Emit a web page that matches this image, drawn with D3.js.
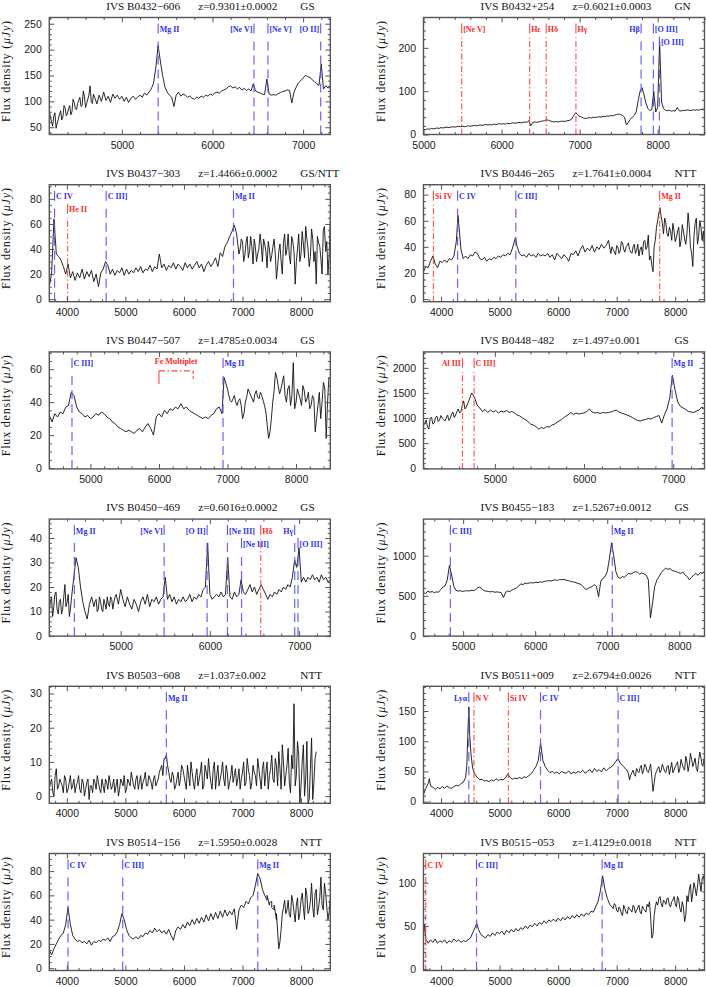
<!DOCTYPE html>
<html><head><meta charset="utf-8">
<script src="https://cdn.jsdelivr.net/npm/d3@7"></script>
<style>body{margin:0;background:#fff}svg{display:block}</style>
</head><body>
<script>
// ---------------- DATA ----------------
const sources = ["IVS B0432\u2212606","IVS B0432+254","IVS B0437\u2212303","IVS B0446\u2212265","IVS B0447\u2212507","IVS B0448\u2212482","IVS B0450\u2212469","IVS B0455\u2212183","IVS B0503\u2212608","IVS B0511+009","IVS B0514\u2212156","IVS B0515\u2212053"];
const redshifts = ["z=0.9301\u00b10.0002","z=0.6021\u00b10.0003","z=1.4466\u00b10.0002","z=1.7641\u00b10.0004","z=1.4785\u00b10.0034","z=1.497\u00b10.001","z=0.6016\u00b10.0002","z=1.5267\u00b10.0012","z=1.037\u00b10.002","z=2.6794\u00b10.0026","z=1.5950\u00b10.0028","z=1.4129\u00b10.0018"];
const telescopes = ["GS","GN","GS/NTT","NTT","GS","GS","GS","GS","NTT","NTT","NTT","NTT"];
const xRanges = [[4200,7300],[5000,8600],[3700,8500],[3700,8500],[4400,8500],[4200,7350],[4200,7350],[4450,8350],[3700,8500],[3700,8500],[3700,8500],[3700,8500]];
const yRanges = [[36,262],[0,270],[-2,91.3],[-2,87.6],[-0.5,70.5],[-14,2318],[0,47.7],[0,1455],[-2.1,32.1],[-2.8,191],[-1.9,94.5],[-1.5,133.8]];
const xTickLabels = [[5000,6000,7000],[5000,6000,7000,8000],[4000,5000,6000,7000,8000],[4000,5000,6000,7000,8000],[5000,6000,7000,8000],[5000,6000,7000],[5000,6000,7000],[5000,6000,7000,8000],[4000,5000,6000,7000,8000],[4000,5000,6000,7000,8000],[4000,5000,6000,7000,8000],[4000,5000,6000,7000,8000]];
const yTickLabels = [[50,100,150,200,250],[0,100,200],[0,20,40,60,80],[0,20,40,60,80],[0,20,40,60],[0,500,1000,1500,2000],[0,10,20,30,40],[0,500,1000],[0,10,20,30],[0,50,100,150],[0,20,40,60,80],[0,50,100]];
const yMinorStep = [10,20,5,5,5,100,2,100,2,10,5,10];

const spec_B0432_606 = [[4200,84],[4225,60],[4250,72],[4275,48],[4300,66],[4325,82],[4350,70],[4375,88],[4400,76],[4425,92],
[4450,80],[4475,98],[4500,84],[4525,102],[4550,90],[4575,120],[4600,88],[4625,104],[4650,130],[4675,96],
[4700,108],[4725,95],[4750,112],[4775,100],[4800,118],[4825,102],[4850,110],[4875,98],[4900,114],[4925,106],
[4950,112],[4975,104],[5000,110],[5025,100],[5050,108],[5075,98],[5100,106],[5125,110],[5150,104],[5175,108],
[5200,112],[5225,108],[5250,116],[5275,112],[5300,118],[5325,124],[5350,135],[5375,165],[5400,208],[5425,178],
[5450,150],[5475,128],[5500,118],[5525,112],[5550,108],[5575,90],[5600,112],[5625,118],[5650,110],[5675,114],
[5700,112],[5725,108],[5750,110],[5775,106],[5800,104],[5825,108],[5850,106],[5875,110],[5900,108],[5925,112],
[5950,110],[5975,114],[6000,112],[6025,116],[6050,118],[6075,116],[6100,120],[6125,122],[6150,124],[6175,128],
[6200,130],[6225,126],[6250,128],[6275,124],[6300,127],[6325,122],[6350,125],[6375,121],[6400,124],[6425,120],
[6450,134],[6475,120],[6500,118],[6525,116],[6550,114],[6575,113],[6600,143],[6625,114],[6650,112],[6675,113],
[6700,112],[6725,115],[6750,117],[6775,119],[6800,120],[6825,122],[6850,121],[6875,97],[6900,118],[6925,128],
[6950,136],[6975,140],[7000,145],[7025,150],[7050,148],[7075,146],[7100,142],[7125,138],[7150,134],[7175,131],
[7200,172],[7225,124],[7250,130],[7275,126],[7300,128]];
const fine_B0432_606 = [[4212,70],[4237,52],[4262,78],[4287,58],[4312,74],[4337,64],[4362,92],[4387,72],[4412,86],[4437,74],
[4462,104],[4487,86],[4512,96],[4537,108],[4562,92],[4587,110],[4612,96],[4637,112],[4662,100],[4687,114]];

const spec_B0432_254 = [[5000,12],[5025,11],[5050,13],[5075,12],[5100,14],[5125,13],[5150,14],[5175,15],[5200,14],[5225,16],
[5250,15],[5275,16],[5300,17],[5325,16],[5350,17],[5375,18],[5400,17],[5425,18],[5450,19],[5475,18],
[5500,19],[5525,18],[5550,19],[5575,20],[5600,19],[5625,20],[5650,21],[5675,20],[5700,21],[5725,22],
[5750,21],[5775,22],[5800,23],[5825,22],[5850,23],[5875,22],[5900,24],[5925,23],[5950,24],[5975,25],
[6000,24],[6025,25],[6050,24],[6075,26],[6100,25],[6125,26],[6150,27],[6175,26],[6200,27],[6225,28],
[6250,27],[6275,28],[6300,29],[6325,28],[6350,32],[6375,20],[6400,28],[6425,29],[6450,28],[6475,29],
[6500,30],[6525,31],[6550,32],[6575,34],[6600,33],[6625,31],[6650,30],[6675,29],[6700,30],[6725,29],
[6750,30],[6775,31],[6800,30],[6825,31],[6850,32],[6875,33],[6900,36],[6925,44],[6950,50],[6975,46],
[7000,42],[7025,40],[7050,38],[7075,37],[7100,38],[7125,39],[7150,38],[7175,40],[7200,39],[7225,40],
[7250,41],[7275,40],[7300,42],[7325,41],[7350,43],[7375,42],[7400,44],[7425,43],[7450,45],[7475,46],
[7500,47],[7525,46],[7550,44],[7575,40],[7600,22],[7625,28],[7650,35],[7675,40],[7700,44],[7725,52],
[7750,78],[7775,100],[7800,108],[7825,92],[7850,72],[7875,60],[7900,55],[7925,58],[7950,100],[7975,52],
[8000,62],[8025,215],[8050,75],[8075,60],[8100,56],[8125,55],[8150,56],[8175,54],[8200,55],[8225,54],
[8250,62],[8275,55],[8300,54],[8325,56],[8350,55],[8375,57],[8400,56],[8425,55],[8450,57],[8475,56],
[8500,57],[8525,56],[8550,58],[8575,57],[8600,58]];
const fine_B0432_254 = [];

const spec_B0437_303 = [[3700,10],[3740,21],[3780,64],[3820,36],[3860,34],[3900,31],[3940,26],[3980,20],[4020,28],[4060,17],
[4100,22],[4140,15],[4180,21],[4220,17],[4260,24],[4300,16],[4340,22],[4380,18],[4420,23],[4460,14],
[4500,20],[4540,10],[4580,21],[4620,24],[4660,30],[4700,27],[4740,20],[4780,24],[4820,19],[4860,23],
[4900,21],[4940,25],[4980,19],[5020,24],[5060,20],[5100,23],[5140,21],[5180,25],[5220,22],[5260,26],
[5300,21],[5340,24],[5380,23],[5420,27],[5460,22],[5500,26],[5540,24],[5580,36],[5620,25],[5660,28],
[5700,23],[5740,27],[5780,25],[5820,29],[5860,24],[5900,28],[5940,26],[5980,23],[6020,29],[6060,25],
[6100,28],[6140,24],[6180,27],[6220,30],[6260,25],[6300,28],[6340,22],[6380,27],[6420,30],[6460,26],
[6500,29],[6540,33],[6580,26],[6620,37],[6660,34],[6700,42],[6740,45],[6780,50],[6820,54],[6860,59],
[6900,52],[6940,36],[6980,48],[7020,30],[7060,45],[7100,33],[7140,50],[7180,28],[7220,42],[7260,36],
[7300,52],[7340,30],[7380,44],[7420,25],[7460,40],[7500,35],[7540,48],[7580,16],[7620,38],[7660,30],
[7700,45],[7740,35],[7780,52],[7820,28],[7860,46],[7900,12],[7940,40],[7980,30],[8020,54],[8060,33],
[8100,48],[8140,26],[8180,56],[8220,30],[8260,12],[8300,45],[8340,32],[8380,55],[8420,38],[8460,20],[8500,62]];
const fine_B0437_303 = [[6920,44],[6960,40],[7000,46],[7040,35],[7080,50],[7120,38],[7160,42],[7200,48],[7240,30],[7280,40],
[7320,44],[7360,48],[7400,38],[7440,46],[7480,30],[7520,42],[7560,36],[7600,26],[7640,44],[7680,20],
[7720,52],[7760,40],[7800,35],[7840,50],[7880,38],[7920,30],[7960,52],[8000,36],[8040,44],[8080,58],
[8120,40],[8160,34],[8200,48],[8240,38],[8280,50],[8320,42],[8360,20],[8400,58],[8440,46],[8480,35]];

const spec_B0446_265 = [[3700,21],[3740,25],[3780,24],[3820,29],[3860,33],[3900,27],[3940,24],[3980,29],[4020,28],[4060,30],
[4100,28],[4140,31],[4180,30],[4220,33],[4260,44],[4290,64],[4340,38],[4380,31],[4420,33],[4460,31],
[4500,34],[4540,33],[4580,36],[4620,35],[4660,31],[4700,30],[4740,32],[4780,29],[4820,31],[4860,30],
[4900,32],[4940,31],[4980,33],[5020,32],[5060,34],[5100,33],[5140,35],[5180,34],[5220,39],[5270,47],
[5300,40],[5340,35],[5380,33],[5420,34],[5460,32],[5500,35],[5540,33],[5580,34],[5620,32],[5660,35],
[5700,33],[5740,34],[5780,33],[5820,35],[5860,32],[5900,34],[5940,30],[5980,35],[6020,33],[6060,31],
[6100,34],[6140,32],[6180,29],[6220,35],[6260,34],[6300,37],[6340,33],[6380,38],[6420,41],[6460,36],
[6500,39],[6540,37],[6580,41],[6620,36],[6660,40],[6700,38],[6740,42],[6780,39],[6820,41],[6860,45],
[6900,35],[6940,38],[6980,34],[7020,40],[7060,37],[7100,43],[7140,36],[7180,41],[7220,38],[7260,35],
[7300,42],[7340,37],[7380,33],[7420,40],[7460,44],[7500,38],[7540,49],[7580,33],[7620,21],[7660,45],
[7700,60],[7740,70],[7780,58],[7820,62],[7860,50],[7900,55],[7940,45],[7980,52],[8020,47],[8060,55],
[8100,45],[8140,52],[8180,42],[8220,66],[8260,40],[8300,25],[8340,58],[8380,42],[8420,60],[8460,45],[8500,40]];
const fine_B0446_265 = [[6920,40],[6960,36],[7000,41],[7040,35],[7080,44],[7120,38],[7160,40],[7200,43],[7240,36],[7280,40],
[7320,35],[7360,42],[7400,38],[7440,34],[7480,45],[7520,40],[7560,30],[7600,26],[7640,40],[7680,55],
[7720,66],[7760,63],[7800,50],[7840,58],[7880,48],[7920,52],[7960,58],[8000,44],[8040,52],[8080,40],
[8120,57],[8160,46],[8200,50],[8240,56],[8280,35],[8320,48],[8360,62],[8400,48],[8440,55],[8480,52]];

const spec_B0447_507 = [[4400,32],[4440,28],[4480,33],[4520,31],[4560,34],[4600,33],[4640,37],[4680,38],[4720,46],[4760,44],
[4800,37],[4840,34],[4880,33],[4920,31],[4960,32],[5000,30],[5040,31],[5080,33],[5120,32],[5160,34],
[5200,33],[5240,31],[5280,30],[5320,28],[5360,27],[5400,25],[5440,24],[5480,23],[5520,22],[5560,23],
[5600,22],[5640,21],[5680,23],[5720,24],[5760,22],[5800,25],[5840,27],[5880,24],[5920,20],[5960,31],
[6000,33],[6040,31],[6080,35],[6120,33],[6160,36],[6200,35],[6240,37],[6280,36],[6320,39],[6360,36],
[6400,37],[6440,35],[6480,34],[6520,33],[6560,32],[6600,31],[6640,30],[6680,31],[6720,30],[6760,32],
[6800,33],[6840,36],[6880,37],[6920,33],[6950,55],[7000,48],[7040,41],[7080,42],[7120,40],[7160,41],
[7200,38],[7240,33],[7280,43],[7320,46],[7360,42],[7400,45],[7440,43],[7480,46],[7520,41],[7560,34],
[7600,18],[7640,30],[7680,47],[7720,55],[7760,45],[7800,52],[7840,44],[7880,48],[7920,38],[7960,64],
[8000,40],[8040,45],[8080,38],[8120,47],[8160,42],[8200,36],[8240,44],[8280,22],[8320,38],[8360,30],
[8400,52],[8440,18],[8480,55]];
const fine_B0447_507 = [[7020,44],[7060,40],[7100,44],[7140,38],[7180,42],[7220,30],[7260,40],[7300,48],[7340,44],[7380,40],
[7420,47],[7460,42],[7500,44],[7540,38],[7580,26],[7620,22],[7660,40],[7700,58],[7740,50],[7780,48],
[7820,56],[7860,40],[7900,50],[7940,44],[7980,36],[8020,48],[8060,42],[8100,50],[8140,40],[8180,46],
[8220,38],[8260,42],[8300,30],[8340,46],[8380,40],[8420,48],[8460,40]];

const spec_B0448_482 = [[4200,850],[4230,960],[4260,780],[4290,1020],[4320,900],[4350,1040],[4380,960],[4410,1000],[4440,940],[4470,1060],
[4500,990],[4530,1120],[4560,1060],[4590,1180],[4620,1130],[4650,1340],[4680,1220],[4710,1350],[4740,1500],[4770,1420],
[4800,1260],[4830,1200],[4860,1130],[4890,1170],[4920,1110],[4950,1160],[4980,1120],[5010,1150],[5040,1100],[5070,1140],
[5100,1120],[5130,1150],[5160,1110],[5190,1130],[5220,1100],[5250,1060],[5280,1040],[5310,1000],[5340,970],[5370,930],
[5400,880],[5430,860],[5460,830],[5490,780],[5520,810],[5550,790],[5580,830],[5610,820],[5640,860],[5670,880],
[5700,920],[5730,950],[5760,990],[5790,1030],[5820,1060],[5850,1110],[5880,1070],[5910,1100],[5940,1080],[5970,1090],
[6000,1100],[6030,1130],[6060,1180],[6090,1120],[6120,1100],[6150,1110],[6180,1090],[6210,1110],[6240,1100],[6270,1110],
[6300,1120],[6330,1140],[6360,1160],[6390,1120],[6420,1100],[6450,1080],[6480,1060],[6510,1040],[6540,1010],[6570,980],
[6600,950],[6630,940],[6660,960],[6690,970],[6720,990],[6750,980],[6780,1010],[6810,1030],[6840,1050],[6870,900],
[6900,1060],[6930,1180],[6960,1400],[6990,1850],[7020,1560],[7050,1320],[7080,1230],[7110,1200],[7140,1170],[7170,1130],
[7200,1120],[7230,1110],[7260,1140],[7290,1160],[7320,1220],[7350,1180]];
const fine_B0448_482 = [[4215,900],[4245,820],[4275,990],[4305,880],[4335,1010],[4365,930],[4395,1050],[4425,970],[4455,1000],[4485,950],
[4515,1080],[4545,1010],[4575,1130],[4605,1100],[4635,1250],[4665,1180],[4695,1290]];

const spec_B0450_469 = [[4200,10],[4225,16],[4250,12],[4275,18],[4300,9],[4325,15],[4350,11],[4375,21],[4400,14],[4425,8],
[4450,16],[4475,24],[4500,32],[4525,28],[4550,20],[4575,14],[4600,10],[4625,7],[4650,13],[4675,16],
[4700,12],[4725,15],[4750,11],[4775,14],[4800,10],[4825,13],[4850,16],[4875,12],[4900,15],[4925,14],
[4950,17],[4975,13],[5000,19],[5025,15],[5050,12],[5075,16],[5100,13],[5125,11],[5150,15],[5175,13],
[5200,10],[5225,14],[5250,16],[5275,13],[5300,17],[5325,12],[5350,15],[5375,14],[5400,16],[5425,13],
[5450,15],[5475,16],[5500,24],[5525,15],[5550,17],[5575,14],[5600,16],[5625,13],[5650,15],[5675,14],
[5700,16],[5725,14],[5750,15],[5775,17],[5800,14],[5825,16],[5850,15],[5875,17],[5900,16],[5925,19],
[5950,20],[5975,38],[6000,17],[6025,15],[6050,16],[6075,17],[6100,16],[6125,18],[6150,16],[6175,17],
[6200,32],[6225,16],[6250,15],[6275,18],[6300,16],[6325,17],[6350,23],[6375,18],[6400,17],[6425,19],
[6450,21],[6475,18],[6500,20],[6525,17],[6550,19],[6575,21],[6600,19],[6625,17],[6650,15],[6675,17],
[6700,16],[6725,18],[6750,17],[6775,19],[6800,18],[6825,20],[6850,19],[6875,21],[6900,20],[6925,24],
[6950,31],[6975,28],[7000,36],[7025,22],[7050,24],[7075,22],[7100,24],[7125,23],[7150,25],[7175,23],
[7200,24],[7225,22],[7250,25],[7275,23],[7300,24],[7325,22],[7350,23]];
const fine_B0450_469 = [[4212,14],[4237,8],[4262,17],[4287,11],[4312,14],[4337,9],[4362,16],[4387,12],[4412,17],[4437,11],
[4712,14],[4737,10],[4762,16],[4787,11],[4812,15],[4837,11],[4862,13],[4887,16],[4912,11],[4937,16]];

const spec_B0455_183 = [[4450,540],[4480,530],[4510,560],[4540,545],[4570,555],[4600,540],[4630,550],[4660,545],[4690,580],[4720,610],
[4750,625],[4780,700],[4810,880],[4840,760],[4870,620],[4900,570],[4930,560],[4960,565],[4990,555],[5020,560],
[5050,565],[5080,560],[5110,570],[5140,565],[5170,575],[5200,600],[5230,610],[5260,585],[5290,565],[5320,560],
[5350,555],[5380,550],[5410,555],[5440,545],[5470,550],[5500,545],[5530,540],[5560,480],[5590,545],[5620,560],
[5650,555],[5680,575],[5710,585],[5740,600],[5770,620],[5800,650],[5830,640],[5860,660],[5890,655],[5920,660],
[5950,665],[5980,660],[6010,670],[6040,665],[6070,675],[6100,670],[6130,680],[6160,685],[6190,690],[6220,685],
[6250,695],[6280,700],[6310,690],[6340,705],[6370,700],[6400,705],[6430,695],[6460,690],[6490,680],[6520,675],
[6550,670],[6580,660],[6610,650],[6640,640],[6670,610],[6700,580],[6730,590],[6760,605],[6790,615],[6820,640],
[6850,620],[6880,490],[6910,680],[6940,720],[6970,740],[7000,800],[7030,960],[7060,1160],[7090,1000],[7120,800],
[7150,730],[7180,720],[7210,740],[7240,730],[7270,760],[7300,780],[7330,770],[7360,790],[7390,800],[7420,795],
[7450,770],[7480,785],[7510,775],[7540,760],[7570,700],[7600,225],[7630,420],[7660,620],[7690,700],[7720,740],
[7750,790],[7780,820],[7810,845],[7840,830],[7870,840],[7900,815],[7930,810],[7960,800],[7990,790],[8020,780],
[8050,795],[8080,760],[8110,740],[8140,700],[8170,730],[8200,760],[8230,780],[8260,755],[8290,790],[8320,780],[8350,800]];
const fine_B0455_183 = [];

const spec_B0503_608 = [[3700,2],[3740,5],[3780,0],[3820,8],[3860,3],[3900,4],[3940,1],[3980,5],[4020,2],[4060,6],
[4100,3],[4140,1],[4180,4],[4220,2],[4260,5],[4300,0],[4340,4],[4380,-1],[4420,3],[4460,5],
[4500,2],[4540,4],[4580,1],[4620,3],[4660,5],[4700,2],[4740,4],[4780,3],[4820,1],[4860,5],
[4900,2],[4940,4],[4980,6],[5020,2],[5060,4],[5100,7],[5140,3],[5180,5],[5220,2],[5260,6],
[5300,4],[5340,7],[5380,3],[5420,5],[5460,2],[5500,6],[5540,4],[5580,7],[5620,9],[5660,11],
[5700,12],[5740,7],[5780,4],[5820,6],[5860,3],[5900,7],[5940,5],[5980,8],[6020,4],[6060,9],
[6100,3],[6140,7],[6180,2],[6220,8],[6260,5],[6300,10],[6340,3],[6380,7],[6420,11],[6460,4],
[6500,8],[6540,2],[6580,9],[6620,5],[6660,10],[6700,3],[6740,7],[6780,4],[6820,9],[6860,6],
[6900,3],[6940,8],[6980,5],[7020,10],[7060,4],[7100,8],[7140,2],[7180,9],[7220,6],[7260,11],
[7300,5],[7340,8],[7380,3],[7420,10],[7460,6],[7500,12],[7540,4],[7580,9],[7620,13],[7660,2],
[7700,10],[7740,6],[7780,14],[7820,1],[7860,8],[7880,27],[7900,3],[7940,16],[7980,-2],[8020,10],
[8060,0],[8100,16],[8140,-1],[8180,17],[8220,4],[8260,13]];
const fine_B0503_608 = [[3720,4],[3760,1],[3800,6],[3840,2],[3880,5],[3920,3],[3960,6],[4000,1],[4040,4],[4080,2],
[4120,5],[4160,3],[4200,6],[4240,1],[4280,4],[4320,2],[4360,5],[4400,3],[4440,1],[4480,4],
[4520,6],[4560,2],[4600,5],[4640,1],[4680,4],[4720,6],[4760,2],[4800,5],[4840,3],[4880,0],
[4920,5],[4960,3],[5000,1],[5040,5],[5080,3],[5120,5],[5160,2],[5200,6],[5240,4],[5280,2],
[5320,5],[5360,3],[5400,6],[5440,4],[5480,5],[5520,3],[5560,5],[5600,8],[5640,6],[5680,11],
[5720,9],[5760,5],[5800,7],[5840,2],[5880,5],[5920,3],[5960,9],[6000,6],[6040,2],[6080,6],
[6120,10],[6160,4],[6200,6],[6240,3],[6280,7],[6320,2],[6360,9],[6400,5],[6440,7],[6480,2],
[6520,10],[6560,6],[6600,3],[6640,7],[6680,5],[6720,9],[6760,2],[6800,6],[6840,4],[6880,8],
[6920,5],[6960,2],[7000,7],[7040,3],[7080,11],[7120,6],[7160,4],[7200,7],[7240,3],[7280,8],
[7320,2],[7360,10],[7400,7],[7440,2],[7480,8],[7520,5],[7560,11],[7600,3],[7640,8],[7680,15],
[7720,3],[7760,9],[7800,4],[7840,12],[7920,6],[7960,12],[8000,3],[8040,15],[8080,5],[8120,-2],
[8160,8],[8200,-1],[8240,11]];

const spec_B0511_009 = [[3700,12],[3740,22],[3780,30],[3800,38],[3820,26],[3860,24],[3900,20],[3940,24],[3980,21],[4020,25],
[4060,22],[4100,26],[4140,23],[4180,22],[4220,25],[4260,27],[4300,26],[4340,30],[4380,32],[4420,40],
[4440,60],[4460,120],[4475,157],[4490,110],[4510,80],[4540,55],[4580,45],[4620,40],[4660,36],[4700,37],
[4740,34],[4780,35],[4820,33],[4860,36],[4900,34],[4940,38],[4980,35],[5020,37],[5060,36],[5100,39],
[5140,46],[5180,40],[5220,37],[5260,39],[5300,38],[5340,40],[5380,38],[5420,41],[5460,40],[5500,43],
[5540,46],[5580,52],[5620,58],[5660,68],[5700,97],[5740,68],[5780,58],[5820,52],[5860,48],[5900,50],
[5940,47],[5980,49],[6020,46],[6060,50],[6100,48],[6140,47],[6180,51],[6220,46],[6260,49],[6300,47],
[6340,50],[6380,48],[6420,52],[6460,47],[6500,50],[6540,53],[6580,48],[6620,55],[6660,50],[6700,53],
[6740,49],[6780,56],[6820,51],[6860,55],[6900,57],[6940,60],[6980,66],[7020,71],[7060,64],[7100,60],
[7140,55],[7180,52],[7220,36],[7260,48],[7300,45],[7340,55],[7380,48],[7420,60],[7460,52],[7500,58],
[7540,48],[7580,62],[7620,17],[7660,45],[7700,55],[7740,48],[7780,62],[7820,50],[7860,58],[7900,45],
[7940,65],[7980,52],[8020,62],[8060,48],[8100,70],[8140,55],[8180,75],[8220,50],[8260,80],[8300,58],
[8340,72],[8380,50],[8420,82],[8460,60],[8500,75]];
const fine_B0511_009 = [[7120,58],[7160,53],[7200,46],[7240,44],[7280,52],[7320,42],[7360,50],[7400,56],[7440,46],[7480,62],
[7520,50],[7560,55],[7600,40],[7640,30],[7680,50],[7720,58],[7760,52],[7800,56],[7840,48],[7880,60],
[7920,55],[7960,48],[8000,58],[8040,66],[8080,55],[8120,62],[8160,52],[8200,66],[8240,60],[8280,70],
[8320,64],[8360,55],[8400,68],[8440,72],[8480,62]];

const spec_B0514_156 = [[3700,15],[3740,11],[3780,16],[3820,20],[3860,24],[3900,27],[3940,29],[3980,36],[4020,50],[4060,36],
[4100,27],[4140,24],[4180,22],[4220,23],[4260,21],[4300,22],[4340,20],[4380,23],[4420,19],[4460,22],
[4500,21],[4540,23],[4580,22],[4620,24],[4660,23],[4700,25],[4740,22],[4780,26],[4820,27],[4860,30],
[4900,36],[4940,45],[4980,40],[5020,32],[5060,27],[5100,25],[5140,24],[5180,26],[5220,24],[5260,27],
[5300,26],[5340,29],[5380,28],[5420,31],[5460,29],[5500,33],[5540,30],[5580,32],[5620,29],[5660,31],
[5700,28],[5740,32],[5780,27],[5820,23],[5860,31],[5900,34],[5940,32],[5980,36],[6020,33],[6060,38],
[6100,35],[6140,40],[6180,36],[6220,41],[6260,37],[6300,42],[6340,38],[6380,44],[6420,39],[6460,45],
[6500,40],[6540,46],[6580,41],[6620,47],[6660,42],[6700,48],[6740,43],[6780,47],[6820,44],[6860,49],
[6900,32],[6940,48],[6980,52],[7020,50],[7060,55],[7100,53],[7140,58],[7180,60],[7220,68],[7260,78],
[7300,74],[7340,65],[7380,60],[7420,56],[7460,52],[7500,55],[7540,48],[7580,40],[7620,16],[7660,32],
[7700,50],[7740,45],[7780,56],[7820,42],[7860,55],[7900,38],[7940,58],[7980,45],[8020,62],[8060,40],
[8100,60],[8140,48],[8180,70],[8220,42],[8260,65],[8300,50],[8340,75],[8380,48],[8420,62],[8460,40],[8500,58]];
const fine_B0514_156 = [[7420,60],[7460,54],[7500,50],[7540,52],[7580,45],[7640,22],[7680,45],[7720,56],[7760,48],[7800,44],
[7840,60],[7880,46],[7920,52],[7960,40],[8000,56],[8040,50],[8080,66],[8120,45],[8160,55],[8200,50],
[8240,62],[8280,44],[8320,58],[8360,52],[8400,70],[8440,50],[8480,46]];

const spec_B0515_053 = [[3700,40],[3720,52],[3740,35],[3780,30],[3820,34],[3860,31],[3900,35],[3940,30],[3980,33],[4020,31],
[4060,34],[4100,30],[4140,33],[4180,31],[4220,35],[4260,32],[4300,34],[4340,31],[4380,33],[4420,32],
[4460,34],[4500,36],[4540,42],[4580,48],[4610,53],[4640,46],[4680,40],[4720,38],[4760,36],[4800,40],
[4840,38],[4880,42],[4920,39],[4960,43],[5000,41],[5040,44],[5080,40],[5120,45],[5160,42],[5200,46],
[5240,43],[5280,47],[5320,44],[5360,48],[5400,46],[5440,50],[5480,47],[5520,51],[5560,49],[5600,53],
[5640,50],[5680,54],[5720,52],[5760,56],[5800,53],[5840,57],[5880,55],[5920,58],[5960,55],[6000,59],
[6040,56],[6080,60],[6120,57],[6160,61],[6200,58],[6240,62],[6280,59],[6320,63],[6360,60],[6400,64],
[6440,61],[6480,65],[6520,63],[6560,67],[6600,66],[6640,72],[6680,78],[6720,90],[6760,108],[6800,92],
[6840,82],[6880,75],[6920,72],[6960,76],[7000,68],[7040,72],[7080,64],[7120,74],[7160,66],[7200,72],
[7240,68],[7280,74],[7320,65],[7360,71],[7400,66],[7440,73],[7480,68],[7520,75],[7560,78],[7600,36],
[7640,62],[7680,78],[7720,82],[7760,76],[7800,80],[7840,75],[7880,82],[7920,72],[7960,80],[8000,76],
[8040,84],[8080,70],[8120,78],[8160,55],[8200,85],[8240,92],[8280,78],[8320,100],[8360,85],[8400,110],
[8440,90],[8480,108],[8500,100]];
const fine_B0515_053 = [[6940,70],[6980,74],[7020,66],[7060,70],[7100,62],[7140,70],[7180,64],[7220,70],[7260,66],[7300,72],
[7340,68],[7380,74],[7420,64],[7460,70],[7500,66],[7540,72],[7580,60],[7620,40],[7660,72],[7700,74],
[7740,84],[7780,72],[7820,78],[7860,82],[7900,74],[7940,78],[7980,84],[8020,72],[8060,80],[8100,66],
[8140,72],[8180,62],[8220,78],[8260,98],[8300,88],[8340,94],[8380,95],[8420,100],[8460,104]];

const spectra = [spec_B0432_606,spec_B0432_254,spec_B0437_303,spec_B0446_265,spec_B0447_507,spec_B0448_482,
                 spec_B0450_469,spec_B0455_183,spec_B0503_608,spec_B0511_009,spec_B0514_156,spec_B0515_053];
const fineSamples = [fine_B0432_606,fine_B0432_254,fine_B0437_303,fine_B0446_265,fine_B0447_507,fine_B0448_482,
                 fine_B0450_469,fine_B0455_183,fine_B0503_608,fine_B0511_009,fine_B0514_156,fine_B0515_053];

// emission-line identifications: [observed wavelength, label, class]
const lineIds = [
 [[5401,"Mg II","secure"],[6458,"[Ne V]","secure"],[6612,"[Ne V]","secure"],[7194,"[O II]","secure"]],
 [[5489,"[Ne V]","weak"],[6360,"H\u03b5","weak"],[6572,"H\u03b4","weak"],[6953,"H\u03b3","weak"],[7788,"H\u03b2","secure"],[7945,"[O III]","secure"],[8022,"[O III]","secure"]],
 [[3790,"C IV","secure"],[4012,"He II","weak"],[4671,"C III]","secure"],[6846,"Mg II","secure"]],
 [[3870,"Si IV","weak"],[4282,"C IV","secure"],[5277,"C III]","secure"],[7734,"Mg II","weak"]],
 [[4731,"C III]","secure"],[6935,"Mg II","secure"]],
 [[4637,"Al III","weak"],[4767,"C III]","weak"],[6987,"Mg II","secure"]],
 [[4481,"Mg II","secure"],[5487,"[Ne V]","secure"],[5969,"[O II]","secure"],[6197,"[Ne III]","secure"],[6355,"[Ne III]","secure"],[6570,"H\u03b4","weak"],[6951,"H\u03b3","secure"],[6988,"[O III]","secure"]],
 [[4823,"C III]","secure"],[7070,"Mg II","secure"]],
 [[5700,"Mg II","secure"]],
 [[4474,"Ly\u03b1","secure"],[4562,"N V","weak"],[5151,"Si IV","weak"],[5699,"C IV","secure"],[7024,"C III]","secure"]],
 [[4020,"C IV","secure"],[4954,"C III]","secure"],[7261,"Mg II","secure"]],
 [[3738,"C IV","weak"],[4606,"C III]","secure"],[6751,"Mg II","secure"]]
];
// Fe multiplet band for IVS B0447-507 (panel index 4)
const feBand = {panel:4, from:6000, to:6500, label:"Fe Multiplet"};

// ---------------- LAYOUT ----------------
const labelOnLeft = ["0:6458","0:7194","1:7788","5:4637","6:5487","6:5969","6:6951","9:4474"];
const labelLowered = ["1:8022","2:4012","6:6355","6:6988"];
const W=706,H=987;
const colX=[49.3,423.5], PW=281, PH=117, top0=17.5, rowStep=167.2;
const BLUE={text:"#2f2fff",line:"#5555ff"}, RED={text:"#ff2a2a",line:"#ff4a4a"};
const FRAME="#555";

const svg=d3.select("body").append("svg").attr("width",W).attr("height",H)
  .style("font-family","'Liberation Serif','Times New Roman',serif");

sources.forEach((src,i)=>{
  const col=i%2,row=Math.floor(i/2);
  const x0=colX[col], y0=top0+row*rowStep;
  const g=svg.append("g").attr("transform",`translate(${x0},${y0})`);
  const x=d3.scaleLinear().domain(xRanges[i]).range([0,PW]);
  const y=d3.scaleLinear().domain(yRanges[i]).range([PH,0]);

  // title
  const t=svg.append("text").attr("y",y0-7.8).attr("font-size",11.2).attr("fill","#111");
  [[src,57],[redshifts[i],149],[telescopes[i],251]].forEach(([s,dx])=>{
    t.append("tspan").attr("x",x0+dx).text(s);
  });

  // y label
  const yl=svg.append("text").attr("transform",`translate(${x0-39},${y0+PH/2-5}) rotate(-90)`)
    .attr("text-anchor","middle").attr("font-size",12).attr("letter-spacing","0.8px").attr("fill","#111");
  yl.append("tspan").text("Flux density (");
  yl.append("tspan").attr("font-style","italic").text("\u03bcJy");
  yl.append("tspan").text(")");

  // clip
  const cid="clip"+i;
  g.append("clipPath").attr("id",cid).append("rect").attr("width",PW).attr("height",PH);

  // spectrum (coarse + fine samples merged in wavelength order)
  const pts=d3.sort(spectra[i].concat(fineSamples[i]), d=>d[0]);
  const line=d3.line().x(d=>x(d[0])).y(d=>y(d[1]));
  g.append("path").datum(pts).attr("clip-path",`url(#${cid})`)
    .attr("d",line).attr("fill","none").attr("stroke","#111").attr("stroke-width",0.9).attr("stroke-linejoin","round");

  // line identifications
  lineIds[i].forEach(([wl,label,cls])=>{
    const key=i+":"+wl;
    const left=labelOnLeft.includes(key), low=labelLowered.includes(key);
    const c = cls==="secure"?BLUE:RED;
    const lx=x(wl), tt=6+(low?13:0);
    g.append("line").attr("x1",lx).attr("x2",lx).attr("y1",tt).attr("y2",tt+10)
      .attr("stroke",c.line).attr("stroke-width",1.1);
    g.append("line").attr("x1",lx).attr("x2",lx).attr("y1",PH).attr("y2",tt+14)
      .attr("stroke",c.line).attr("stroke-width",1.2).attr("opacity",0.9)
      .attr("stroke-dasharray",cls==="secure"?"9,5":"6,2.5,1.5,2.5");
    g.append("text").attr("x",left?lx-1.5:lx+1.5).attr("y",tt+8.5)
      .attr("text-anchor",left?"end":"start").attr("font-size",8).attr("font-weight","bold")
      .attr("fill",c.text).text(label);
  });

  if(feBand.panel===i){
    const a=x(feBand.from), b=x(feBand.to);
    g.append("text").attr("x",(a+b)/2).attr("y",12).attr("text-anchor","middle")
      .attr("font-size",8).attr("font-weight","bold").attr("fill",RED.text).text(feBand.label);
    g.append("line").attr("x1",a).attr("x2",b).attr("y1",19).attr("y2",19)
      .attr("stroke",RED.line).attr("stroke-width",1.1).attr("stroke-dasharray","6,2.5,1.5,2.5");
    g.append("line").attr("x1",a).attr("x2",a).attr("y1",19).attr("y2",32).attr("stroke",RED.line).attr("stroke-width",1.1);
    g.append("line").attr("x1",b).attr("x2",b).attr("y1",19).attr("y2",28).attr("stroke",RED.line).attr("stroke-width",1.1).attr("stroke-dasharray","3,2");
  }

  // axes
  const xMinor=d3.range(Math.ceil(xRanges[i][0]/200)*200, xRanges[i][1]+1, 200).filter(v=>v%1000!==0);
  const ys=yMinorStep[i];
  const yMinor=d3.range(Math.ceil(yRanges[i][0]/ys)*ys, yRanges[i][1], ys).filter(v=>!yTickLabels[i].includes(v));
  const xMajorAll=d3.range(Math.ceil(xRanges[i][0]/1000)*1000, xRanges[i][1]+1, 1000);
  const styleAxis=sel=>{sel.select(".domain").remove();sel.selectAll(".tick line").attr("stroke",FRAME).attr("stroke-width",1);
    sel.selectAll("text").attr("fill","#1a1a1a").attr("font-family","'Liberation Sans',Arial,sans-serif").attr("font-size",10.5);};
  g.append("g").attr("transform",`translate(0,${PH})`).call(d3.axisBottom(x).tickValues(xTickLabels[i]).tickSize(-5).tickPadding(6.6).tickFormat(d3.format("d"))).call(styleAxis);
  g.append("g").attr("transform",`translate(0,${PH})`).call(d3.axisBottom(x).tickValues(xMinor).tickSize(-2.5).tickFormat("")).call(styleAxis);
  g.append("g").call(d3.axisTop(x).tickValues(xMajorAll).tickSize(-5).tickFormat("")).call(styleAxis);
  g.append("g").call(d3.axisTop(x).tickValues(xMinor).tickSize(-2.5).tickFormat("")).call(styleAxis);
  g.append("g").call(d3.axisLeft(y).tickValues(yTickLabels[i]).tickSize(-5).tickPadding(7.5).tickFormat(d3.format("d"))).call(styleAxis);
  g.append("g").call(d3.axisLeft(y).tickValues(yMinor).tickSize(-2.5).tickFormat("")).call(styleAxis);
  g.append("g").attr("transform",`translate(${PW},0)`).call(d3.axisRight(y).tickValues(yTickLabels[i]).tickSize(-5).tickFormat("")).call(styleAxis);
  g.append("g").attr("transform",`translate(${PW},0)`).call(d3.axisRight(y).tickValues(yMinor).tickSize(-2.5).tickFormat("")).call(styleAxis);

  // frame
  g.append("rect").attr("width",PW).attr("height",PH).attr("fill","none").attr("stroke",FRAME).attr("stroke-width",1.4);
});
</script>
</body></html>
